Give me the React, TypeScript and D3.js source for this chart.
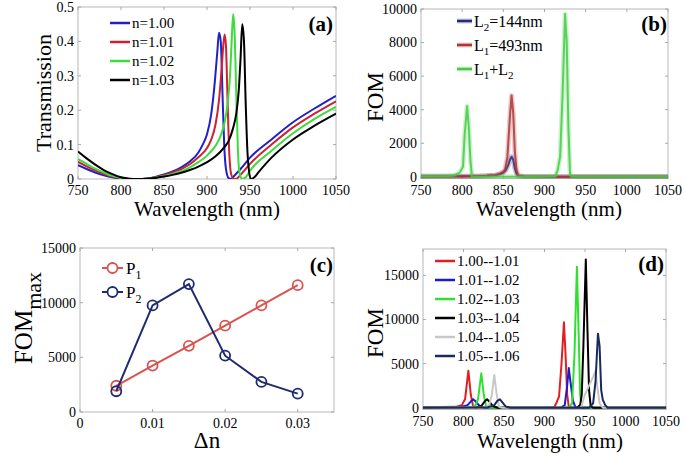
import React from 'react';
import * as d3 from 'd3';

type Pt = [number, number];

const FONT = "'Liberation Serif', 'Times New Roman', serif";

// ---------- (a) Transmission ----------
const wlTicks = [750, 800, 850, 900, 950, 1000, 1050];
const transTicks = [0, 0.1, 0.2, 0.3, 0.4, 0.5];
const transN100: Pt[] = [[750,0.040],[760,0.029],[770,0.019],[780,0.011],[790,0.005],[800,0.0015],[810,0.0],[820,0.0],[830,0.0015],[840,0.006],[850,0.013],[860,0.022],[870,0.034],[880,0.051],[890,0.077],[895,0.1],[900,0.13],[905,0.19],[909,0.28],[912,0.37],[914,0.425],[916,0.40],[918,0.25],[920,0.10],[922,0.03],[925,0.003],[928,0.0],[932,0.01],[940,0.032],[950,0.062],[975,0.115],[1000,0.165],[1025,0.205],[1050,0.242]];
const transN101: Pt[] = [[750,0.050],[760,0.037],[770,0.025],[780,0.015],[790,0.007],[800,0.0025],[810,0.0],[820,0.0],[830,0.001],[840,0.005],[850,0.011],[860,0.019],[870,0.029],[880,0.043],[890,0.063],[900,0.09],[905,0.115],[910,0.16],[914,0.23],[917,0.32],[919,0.39],[920.5,0.42],[922,0.39],[924,0.22],[926,0.07],[928,0.015],[931,0.0],[935,0.002],[940,0.015],[950,0.044],[975,0.1],[1000,0.15],[1025,0.19],[1050,0.226]];
const transN102: Pt[] = [[750,0.058],[760,0.044],[770,0.030],[780,0.019],[790,0.009],[800,0.003],[810,0.0],[820,0.0],[830,0.001],[840,0.004],[850,0.009],[860,0.015],[870,0.023],[880,0.034],[890,0.049],[900,0.068],[910,0.097],[915,0.12],[920,0.16],[924,0.22],[927,0.31],[929,0.42],[930.5,0.48],[932,0.43],[934,0.25],[936,0.08],[938,0.015],[941,0.0],[945,0.005],[950,0.024],[975,0.082],[1000,0.133],[1025,0.175],[1050,0.21]];
const transN103: Pt[] = [[750,0.080],[760,0.060],[770,0.042],[780,0.026],[790,0.014],[800,0.005],[810,0.001],[820,0.0],[830,0.001],[840,0.003],[850,0.007],[860,0.012],[870,0.018],[880,0.026],[890,0.036],[900,0.049],[910,0.066],[920,0.092],[925,0.11],[930,0.145],[934,0.19],[937,0.26],[939,0.35],[941,0.45],[943,0.40],[945,0.22],[947,0.08],[949,0.02],[951,0.0],[955,0.005],[960,0.02],[975,0.062],[1000,0.115],[1025,0.155],[1050,0.19]];
const transSeries = [transN100, transN101, transN102, transN103];
const transLabels = ['n=1.00', 'n=1.01', 'n=1.02', 'n=1.03'];
const transColors = ['#2020c8', '#cc2233', '#3cdc3c', '#000000'];

// ---------- (b) FOM vs wavelength for L2, L1, L1+L2 ----------
const fomBTicks = [0, 2000, 4000, 6000, 8000, 10000];
const fomL2: Pt[] = [[750,30],[800,30],[820,40],[830,60],[840,100],[845,150],[850,250],[853,400],[856,700],[858,1000],[860,1200],[862,1000],[864,500],[866,200],[868,50],[875,20],[900,10],[950,10],[1050,10]];
const fomL1: Pt[] = [[750,10],[800,20],[820,40],[830,60],[840,100],[845,160],[850,300],[852,400],[855,1200],[858,3600],[860,4850],[862,3800],[864,1500],[866,400],[868,80],[875,10],[900,0],[1050,0]];
const fomL1L2: Pt[] = [[750,30],[780,40],[790,80],[797,250],[801,600],[803,2500],[806,4200],[808,3000],[810,1000],[812,-50],[815,0],[850,0],[900,0],[913,30],[916,400],[919,1200],[922,5000],[925,9700],[927,8000],[929,3000],[931,200],[933,0],[1050,0]];
const fomBSeries = [fomL2, fomL1, fomL1L2];
const fomBColors = ['#2a2a78', '#b03535', '#44cc44'];

// ---------- (c) FOM_max vs Δn ----------
const dnValues = [0.005, 0.01, 0.015, 0.02, 0.025, 0.03];
const dnTicks = [0, 0.01, 0.02, 0.03];
const fomCTicks = [0, 5000, 10000, 15000];
const fomMaxP1 = [2400, 4250, 6050, 7900, 9750, 11600];
const fomMaxP2 = [1900, 9750, 11700, 5150, 2750, 1680];
const fomCColors = ['#d9534f', '#1f2a70'];

// ---------- (d) FOM for successive Δn ranges ----------
const fomDTicks = [0, 5000, 10000, 15000];
const fomD1: Pt[] = [[750,50],[790,100],[798,300],[802,1000],[806,4200],[809,1500],[812,100],[815,0],[900,0],[912,50],[915,600],[918,1300],[921,5000],[924,9700],[926,6000],[928,1500],[930,100],[935,0],[1050,0]];
const fomD2: Pt[] = [[750,0],[795,50],[805,300],[810,800],[812,950],[815,700],[820,200],[825,0],[920,0],[925,300],[928,2500],[930,4500],[932,3000],[935,800],[938,100],[942,0],[1050,0]];
const fomD3: Pt[] = [[750,0],[810,50],[815,300],[818,1000],[822,3900],[825,1500],[828,100],[832,0],[930,0],[934,500],[937,6000],[940,16000],[942,9000],[944,1500],[946,100],[950,0],[1050,0]];
const fomD4: Pt[] = [[750,0],[815,30],[822,200],[826,700],[829,950],[832,700],[836,200],[842,0],[940,0],[944,300],[946,1500],[948,7000],[951,16800],[953,9000],[955,2000],[957,200],[960,0],[1050,0]];
const fomD5: Pt[] = [[750,0],[828,50],[832,400],[835,1500],[838,3700],[841,1500],[844,100],[848,0],[945,0],[950,1500],[955,2500],[960,3500],[963,4200],[965,2500],[968,500],[972,0],[1050,0]];
const fomD6: Pt[] = [[750,0],[830,50],[838,300],[842,800],[845,950],[848,600],[852,150],[858,0],[955,0],[960,500],[963,3000],[966,8400],[968,7000],[970,2000],[972,900],[975,300],[978,0],[1050,0]];
const fomDSeries = [fomD1, fomD2, fomD3, fomD4, fomD5, fomD6];
const fomDLabels = ['1.00--1.01', '1.01--1.02', '1.02--1.03', '1.03--1.04', '1.04--1.05', '1.05--1.06'];
const fomDColors = ['#e02020', '#1a1ad0', '#30e030', '#000000', '#c8c8c8', '#1a2a5a'];

type Scale = d3.ScaleLinear<number, number>;

const T = (props: any) => <text {...props} style={{ fontFamily: FONT }} />;

function Frame({ xs, ys, xTicks, yTicks, xFmt, yFmt }: { xs: Scale; ys: Scale; xTicks: number[]; yTicks: number[]; xFmt: (v: number) => string; yFmt: (v: number) => string }) {
  const [x0, x1] = xs.range();
  const [y0, y1] = ys.range();
  const tc = '#a8a8a8';
  return (
    <g>
      <rect x={x0} y={y1} width={x1 - x0} height={y0 - y1} fill="none" stroke="#b8b8b8" strokeWidth={1} />
      {xTicks.map((t) => (
        <g key={'x' + t}>
          <line x1={xs(t)} x2={xs(t)} y1={y0} y2={y0 - 3} stroke={tc} />
          <line x1={xs(t)} x2={xs(t)} y1={y1} y2={y1 + 3} stroke={tc} />
          <T x={xs(t)} y={y0 + 16} textAnchor="middle" fontSize={14}>{xFmt(t)}</T>
        </g>
      ))}
      {yTicks.map((t) => (
        <g key={'y' + t}>
          <line x1={x0} x2={x0 + 3} y1={ys(t)} y2={ys(t)} stroke={tc} />
          <line x1={x1} x2={x1 - 3} y1={ys(t)} y2={ys(t)} stroke={tc} />
          <T x={x0 - 4} y={ys(t)} dy="0.35em" textAnchor="end" fontSize={14}>{yFmt(t)}</T>
        </g>
      ))}
    </g>
  );
}

function clipRect(id: string, xs: Scale, ys: Scale) {
  const [x0, x1] = xs.range();
  const [y0, y1] = ys.range();
  return (
    <clipPath id={id}>
      <rect x={x0} y={y1} width={x1 - x0} height={y0 - y1} />
    </clipPath>
  );
}

export default function App() {
  // (a)
  const xa = d3.scaleLinear().domain([750, 1050]).range([78, 336]);
  const ya = d3.scaleLinear().domain([0, 0.5]).range([179, 7]);
  const lineA = d3.line<Pt>().x((d) => xa(d[0])).y((d) => ya(d[1])).curve(d3.curveMonotoneX);

  // (b)
  const xb = d3.scaleLinear().domain([750, 1050]).range([421, 668]);
  const yb = d3.scaleLinear().domain([-100, 10000]).range([178.5, 9]);
  const lineB = d3.line<Pt>().x((d) => xb(d[0])).y((d) => yb(d[1]));

  // (c)
  const xc = d3.scaleLinear().domain([0, 0.035]).range([80, 334]);
  const yc = d3.scaleLinear().domain([0, 15000]).range([412, 248]);
  const lineC = d3.line<number>().x((_, i) => xc(dnValues[i])).y((d) => yc(d));

  // (d)
  const xd = d3.scaleLinear().domain([750, 1050]).range([423, 666]);
  const yd = d3.scaleLinear().domain([-200, 18000]).range([409.5, 249]);
  const lineD = d3.line<Pt>().x((d) => xd(d[0])).y((d) => yd(d[1]));

  const fmtInt = (v: number) => String(v);
  const fmtDn = (v: number) => (v === 0 ? '0' : String(v));

  return (
    <svg width={685} height={457} style={{ position: 'absolute', left: 0, top: 0, background: '#fff', fontFamily: FONT }}>
      <defs>
        {clipRect('ca', xa, ya)}
        {clipRect('cb', xb, yb)}
        {clipRect('cc', xc, yc)}
        {clipRect('cd', xd, yd)}
      </defs>
      <rect x={0} y={0} width={685} height={457} fill="#fff" />

      {/* ---------- (a) ---------- */}
      <Frame xs={xa} ys={ya} xTicks={wlTicks} yTicks={transTicks} xFmt={fmtInt} yFmt={(v) => (v === 0 ? '0' : v.toFixed(1))} />
      <g clipPath="url(#ca)">
        {transSeries.map((s, i) => (
          <path key={i} d={lineA(s) || ''} fill="none" stroke={transColors[i]} strokeWidth={2} strokeLinejoin="round" />
        ))}
      </g>
      {transLabels.map((l, i) => (
        <g key={l}>
          <line x1={110} x2={130} y1={23 + i * 19} y2={23 + i * 19} stroke={transColors[i]} strokeWidth={2.5} />
          <T x={132} y={23 + i * 19} dy="0.35em" fontSize={15}>{l}</T>
        </g>
      ))}
      <T x={333} y={31} textAnchor="end" fontSize={21} fontWeight="bold">(a)</T>
      <T transform="translate(51,93) rotate(-90)" textAnchor="middle" fontSize={22}>Transmission</T>
      <T x={207} y={216} textAnchor="middle" fontSize={21}>Wavelength (nm)</T>

      {/* ---------- (b) ---------- */}
      <Frame xs={xb} ys={yb} xTicks={wlTicks} yTicks={fomBTicks} xFmt={fmtInt} yFmt={fmtInt} />
      <g clipPath="url(#cb)">
        {fomBSeries.map((s, i) => (
          <g key={i}>
            <path d={lineB(s) || ''} fill="none" stroke={fomBColors[i]} strokeOpacity={0.25} strokeWidth={5} strokeLinejoin="round" />
            <path d={lineB(s) || ''} fill="none" stroke={fomBColors[i]} strokeOpacity={0.85} strokeWidth={2} strokeLinejoin="round" />
          </g>
        ))}
      </g>
      {[0, 1, 2].map((i) => (
        <g key={i}>
          <line x1={457} x2={472} y1={21 + i * 24} y2={21 + i * 24} stroke={fomBColors[i]} strokeOpacity={0.25} strokeWidth={5} />
          <line x1={457} x2={472} y1={21 + i * 24} y2={21 + i * 24} stroke={fomBColors[i]} strokeWidth={2.5} />
        </g>
      ))}
      <T x={474} y={21} dy="0.35em" fontSize={16}>L<tspan dy={4} fontSize={11}>2</tspan><tspan dy={-4}>=144nm</tspan></T>
      <T x={474} y={45} dy="0.35em" fontSize={16}>L<tspan dy={4} fontSize={11}>1</tspan><tspan dy={-4}>=493nm</tspan></T>
      <T x={474} y={69} dy="0.35em" fontSize={16}>L<tspan dy={4} fontSize={11}>1</tspan><tspan dy={-4}>+L</tspan><tspan dy={4} fontSize={11}>2</tspan></T>
      <T x={667} y={31} textAnchor="end" fontSize={21} fontWeight="bold">(b)</T>
      <T transform="translate(383,97) rotate(-90)" textAnchor="middle" fontSize={23}>FOM</T>
      <T x={549} y={216} textAnchor="middle" fontSize={21}>Wavelength (nm)</T>

      {/* ---------- (c) ---------- */}
      <Frame xs={xc} ys={yc} xTicks={dnTicks} yTicks={fomCTicks} xFmt={fmtDn} yFmt={fmtInt} />
      <g clipPath="url(#cc)">
        {[fomMaxP1, fomMaxP2].map((s, i) => (
          <g key={i}>
            <path d={lineC(s) || ''} fill="none" stroke={fomCColors[i]} strokeWidth={2} />
            {s.map((v, j) => (
              <circle key={j} cx={xc(dnValues[j])} cy={yc(v)} r={5} fill="none" stroke={fomCColors[i]} strokeWidth={1.8} />
            ))}
          </g>
        ))}
      </g>
      {[0, 1].map((i) => (
        <g key={i}>
          <line x1={102} x2={123} y1={268 + i * 24} y2={268 + i * 24} stroke={fomCColors[i]} strokeWidth={2} />
          <circle cx={112.5} cy={268 + i * 24} r={5} fill="#fff" stroke={fomCColors[i]} strokeWidth={1.8} />
        </g>
      ))}
      <T x={126} y={268} dy="0.35em" fontSize={17}>P<tspan dy={5} fontSize={12}>1</tspan></T>
      <T x={126} y={292} dy="0.35em" fontSize={17}>P<tspan dy={5} fontSize={12}>2</tspan></T>
      <T x={333} y={272} textAnchor="end" fontSize={21} fontWeight="bold">(c)</T>
      <T transform="translate(32,318) rotate(-90)" textAnchor="middle" fontSize={25}>FOM<tspan dy={9} fontSize={22}>max</tspan></T>
      <T x={207} y={448} textAnchor="middle" fontSize={23}>Δn</T>

      {/* ---------- (d) ---------- */}
      <Frame xs={xd} ys={yd} xTicks={wlTicks} yTicks={fomDTicks} xFmt={fmtInt} yFmt={fmtInt} />
      <g clipPath="url(#cd)">
        {fomDSeries.map((s, i) => (
          <path key={i} d={lineD(s) || ''} fill="none" stroke={fomDColors[i]} strokeWidth={2} strokeLinejoin="round" />
        ))}
      </g>
      {fomDLabels.map((l, i) => (
        <g key={l}>
          <line x1={435} x2={455} y1={261 + i * 19} y2={261 + i * 19} stroke={fomDColors[i]} strokeWidth={2.5} />
          <T x={457} y={261 + i * 19} dy="0.35em" fontSize={15}>{l}</T>
        </g>
      ))}
      <T x={664} y={271} textAnchor="end" fontSize={21} fontWeight="bold">(d)</T>
      <T transform="translate(383,333) rotate(-90)" textAnchor="middle" fontSize={23}>FOM</T>
      <T x={550} y={448} textAnchor="middle" fontSize={21}>Wavelength (nm)</T>
    </svg>
  );
}
